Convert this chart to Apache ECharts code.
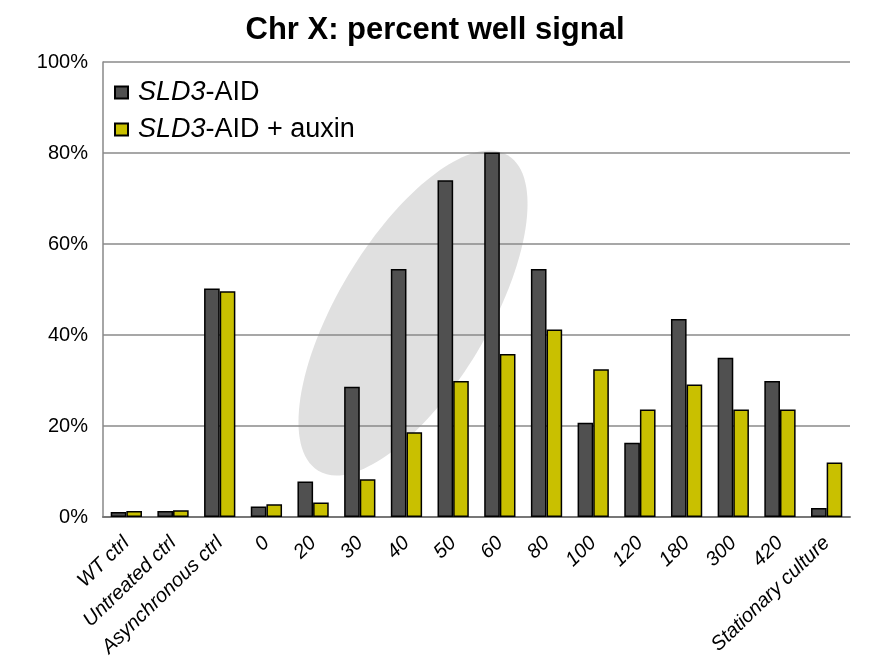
<!DOCTYPE html>
<html><head><meta charset="utf-8">
<script src="https://cdn.jsdelivr.net/npm/echarts@6/dist/echarts.min.js"></script>
<style>html,body{margin:0;padding:0;background:#fff}#c{width:870px;height:667px}</style>
</head><body><div id="c"></div>
<script>
const categories = ['WT ctrl','Untreated ctrl','Asynchronous ctrl','0','20','30','40','50','60','80','100','120','180','300','420','Stationary culture'];
const sld3 = [1.1,1.3,50.2,2.3,7.8,28.6,54.5,74.0,80.1,54.5,20.7,16.3,43.5,35.0,29.9,2.0];
const sld3Auxin = [1.3,1.5,49.6,2.8,3.2,8.3,18.6,29.9,35.8,41.2,32.5,23.6,29.1,23.6,23.6,12.0];
const yTicks = [0,20,40,60,80,100];
const seriesNames = ['SLD3-AID','SLD3-AID + auxin'];

const chart = echarts.init(document.getElementById('c'), null, {renderer:'canvas'});
const F = 'Liberation Sans, Arial, Helvetica, sans-serif';
chart.setOption({
  animation:false,
  title:{text:'Chr X: percent well signal',left:'center',top:10,
    textStyle:{fontFamily:F,fontSize:31,fontWeight:'bold',color:'#000'}},
  legend:{left:109,top:74,orient:'vertical',itemWidth:13,itemHeight:12,itemGap:10,
    icon:'rect',
    textStyle:{fontFamily:F,fontSize:27,color:'#000',
      rich:{i:{fontFamily:F,fontSize:27,fontStyle:'italic',color:'#000',padding:[0,0,0,5]},n:{fontFamily:F,fontSize:27,color:'#000'}}},
    formatter:function(n){return '{i|SLD3}{n|'+n.slice(4)+'}';}},
  grid:{left:103,right:20,top:62,bottom:150,containLabel:false},
  graphic:[{type:'ellipse',z:-10,silent:true,x:413,y:313,rotation:59*Math.PI/180,
    shape:{cx:0,cy:0,rx:184,ry:75},style:{fill:'#e0e0e0'}}],
  xAxis:{type:'category',data:categories,
    axisLine:{lineStyle:{color:'#777',width:2}},axisTick:{show:false},
    axisLabel:{interval:0,rotate:44,fontFamily:F,fontSize:20,fontStyle:'italic',color:'#000',margin:23}},
  yAxis:{type:'value',min:0,max:100,interval:20,
    axisLine:{show:true,lineStyle:{color:'#888',width:1.5}},axisTick:{show:false},
    splitLine:{lineStyle:{color:'#8a8a8a',width:1.5}},
    axisLabel:{formatter:'{value}%',fontFamily:F,fontSize:20,color:'#000',margin:15}},
  series:[
    {name:seriesNames[0],type:'bar',data:sld3,barGap:'0%',barCategoryGap:'33%',
      itemStyle:{color:'#505050',borderColor:'#000',borderWidth:1.5}},
    {name:seriesNames[1],type:'bar',data:sld3Auxin,barGap:'0%',barCategoryGap:'33%',
      itemStyle:{color:'#c9c000',borderColor:'#000',borderWidth:1.5}}
  ]
});
</script></body></html>
